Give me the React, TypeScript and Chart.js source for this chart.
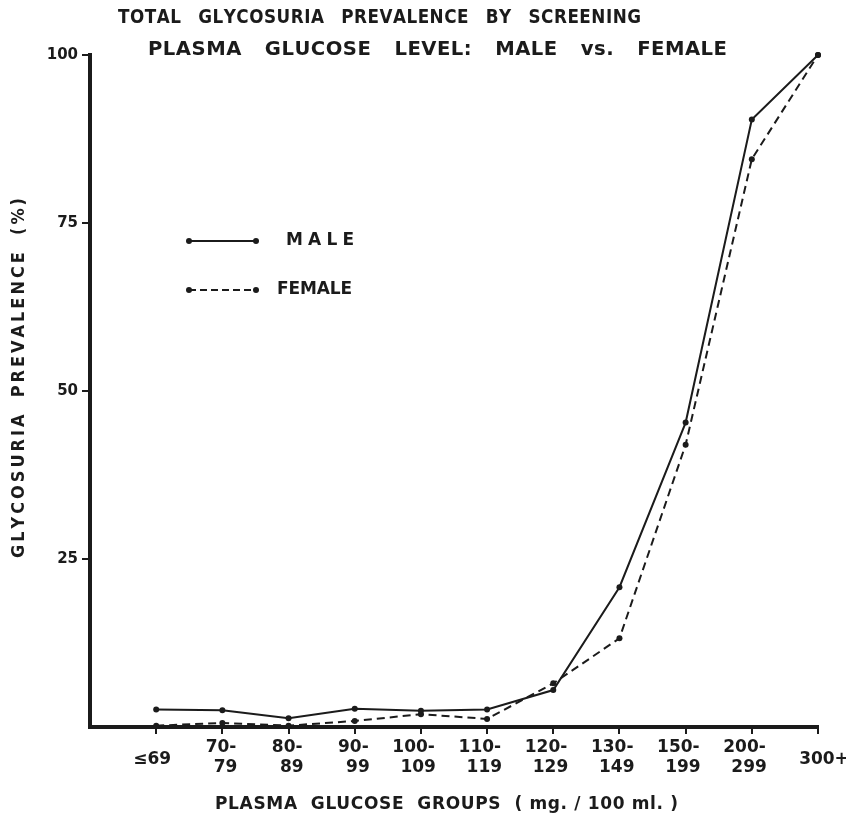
import React, { useEffect, useRef } from 'react';
import { Chart, registerables } from 'chart.js';

Chart.register(...registerables);

// ---- data ----
const categories = ['≤69', '70-79', '80-89', '90-99', '100-109', '110-119', '120-129', '130-149', '150-199', '200-299', '300+'];
const maleValues = [2.6, 2.5, 1.3, 2.7, 2.4, 2.6, 5.5, 20.8, 45.3, 90.4, 100];
const femaleValues = [0.2, 0.6, 0.2, 0.9, 1.9, 1.2, 6.5, 13.2, 42.0, 84.5, 100];
const yTickValues = [25, 50, 75, 100];
const seriesNames = ['MALE', 'FEMALE'];
const titleLines = ['TOTAL GLYCOSURIA PREVALENCE BY SCREENING', 'PLASMA GLUCOSE LEVEL: MALE vs. FEMALE'];
const xTitle = 'PLASMA  GLUCOSE  GROUPS  ( mg. / 100 ml. )';
const yTitle = 'GLYCOSURIA PREVALENCE (%)';

const INK = '#1b1b1b';
const FONT = "'DejaVu Sans', 'Liberation Sans', sans-serif";

// draws words with glyph scale s and letter spacing ls, spreading the word gaps to fill width
function drawSpread(ctx: CanvasRenderingContext2D, text: string, x: number, y: number, width: number, font: string, s: number, ls: number) {
  ctx.save();
  ctx.font = font;
  ctx.textAlign = 'left';
  ctx.textBaseline = 'middle';
  const words = text.split(' ');
  const widths = words.map((w) => {
    const chars = Array.from(w);
    return chars.reduce((a, c) => a + ctx.measureText(c).width * s, 0) + ls * (chars.length - 1);
  });
  const total = widths.reduce((a, b) => a + b, 0);
  const gap = words.length > 1 ? (width - total) / (words.length - 1) : 0;
  let cx = x;
  words.forEach((w) => {
    Array.from(w).forEach((c) => {
      ctx.save();
      ctx.translate(cx, y);
      ctx.scale(s, 1);
      ctx.fillText(c, 0, 0);
      ctx.restore();
      cx += ctx.measureText(c).width * s + ls;
    });
    cx += gap - ls;
  });
  ctx.restore();
}

function drawSpaced(ctx: CanvasRenderingContext2D, text: string, x: number, y: number, width: number, font: string) {
  ctx.save();
  ctx.font = font;
  ctx.textAlign = 'left';
  ctx.textBaseline = 'middle';
  (ctx as any).letterSpacing = '0px';
  const w0 = ctx.measureText(text).width;
  const n = Array.from(text).length;
  (ctx as any).letterSpacing = `${(width - w0) / Math.max(1, n - 1)}px`;
  ctx.fillText(text, x, y);
  ctx.restore();
}

const decorPlugin = {
  id: 'decor',
  afterDraw(chart: any) {
    const ctx: CanvasRenderingContext2D = chart.ctx;
    const xs = chart.scales.x;
    ctx.save();
    ctx.fillStyle = INK;
    ctx.strokeStyle = INK;

    // title
    drawSpread(ctx, titleLines[0], 118, 18, 523, `bold 20px ${FONT}`, 0.84, 0.5);
    drawSpread(ctx, titleLines[1], 148, 50, 579, `bold 20px ${FONT}`, 0.98, 0.5);

    // x category labels (two lines)
    ctx.font = `bold 17px ${FONT}`;
    ctx.textBaseline = 'middle';
    categories.forEach((c, i) => {
      const px = xs.getPixelForValue(i);
      const parts = c.split('-');
      if (parts.length === 2) {
        ctx.textAlign = 'right';
        ctx.fillText(parts[0] + '-', px + 14, 748);
        ctx.fillText(parts[1], px + 15, 768);
      } else {
        ctx.textAlign = 'center';
        ctx.fillText(c, px + (i === 0 ? -4 : 6), 760);
      }
    });

    // x title
    drawSpaced(ctx, xTitle, 215, 805, 463, `bold 17px ${FONT}`);

    // y title (rotated)
    ctx.save();
    ctx.translate(20, 558);
    ctx.rotate(-Math.PI / 2);
    drawSpread(ctx, yTitle, 0, 0, 360, `bold 17px ${FONT}`, 0.95, 3);
    ctx.restore();

    // legend
    const legendRows = [
      { y: 241, dash: [] as number[], textX: 286, textW: 68 },
      { y: 290, dash: [7, 4], textX: 277, textW: 75 },
    ];
    legendRows.forEach((r, i) => {
      ctx.save();
      ctx.lineWidth = 2;
      ctx.setLineDash(r.dash);
      ctx.beginPath();
      ctx.moveTo(189, r.y);
      ctx.lineTo(256, r.y);
      ctx.stroke();
      ctx.setLineDash([]);
      [189, 256].forEach((px) => {
        ctx.beginPath();
        ctx.arc(px, r.y, 3, 0, Math.PI * 2);
        ctx.fill();
      });
      ctx.restore();
      drawSpaced(ctx, seriesNames[i], r.textX, r.y, r.textW, `bold 17px ${FONT}`);
    });

    ctx.restore();
  },
};

export default function App() {
  const canvasRef = useRef<HTMLCanvasElement | null>(null);

  useEffect(() => {
    document.body.style.margin = '0';
    const canvas = canvasRef.current;
    if (!canvas) return;

    const mk = (vals: number[]) => vals.map((v, i) => ({ x: i, y: v }));

    const chart = new Chart(canvas, {
      type: 'line',
      data: {
        datasets: [
          {
            label: seriesNames[0],
            data: mk(maleValues),
            borderColor: INK,
            backgroundColor: INK,
            borderWidth: 2,
            pointRadius: 3,
            pointBackgroundColor: INK,
            pointBorderWidth: 0,
            tension: 0,
            clip: false as any,
          },
          {
            label: seriesNames[1],
            data: mk(femaleValues),
            borderColor: INK,
            backgroundColor: INK,
            borderWidth: 2,
            borderDash: [8, 5],
            pointRadius: 3,
            pointBackgroundColor: INK,
            pointBorderWidth: 0,
            tension: 0,
            clip: false as any,
          },
        ],
      },
      options: {
        responsive: false,
        animation: false,
        devicePixelRatio: 1,
        events: [],
        layout: { padding: { top: 55, right: 28, left: 0, bottom: 0 } },
        plugins: {
          legend: { display: false },
          tooltip: { enabled: false },
          title: { display: false },
        },
        scales: {
          x: {
            type: 'linear',
            min: -1,
            max: categories.length - 1,
            afterBuildTicks: (s: any) => {
              s.ticks = categories.map((_, i) => ({ value: i }));
            },
            afterFit: (s: any) => {
              s.height = 97;
            },
            ticks: { display: false },
            grid: {
              display: true,
              drawOnChartArea: false,
              drawTicks: true,
              tickLength: 7,
              lineWidth: 2,
              color: INK,
              tickColor: INK,
            },
            border: { display: true, width: 4, color: INK },
          },
          y: {
            type: 'linear',
            min: 0,
            max: 100,
            afterBuildTicks: (s: any) => {
              s.ticks = yTickValues.map((v) => ({ value: v }));
            },
            afterFit: (s: any) => {
              s.width = 90;
            },
            ticks: {
              display: true,
              padding: 4,
              color: INK,
              font: { family: FONT, size: 15, weight: 'bold' },
            },
            grid: {
              display: true,
              drawOnChartArea: false,
              drawTicks: true,
              tickLength: 8,
              lineWidth: 2,
              color: INK,
              tickColor: INK,
            },
            border: { display: true, width: 4, color: INK },
          },
        },
      },
      plugins: [decorPlugin],
    });

    return () => {
      chart.destroy();
    };
  }, []);

  return (
    <div style={{ width: 846, height: 824, position: 'relative', background: '#fff' }}>
      <canvas ref={canvasRef} width={846} height={824} />
    </div>
  );
}
